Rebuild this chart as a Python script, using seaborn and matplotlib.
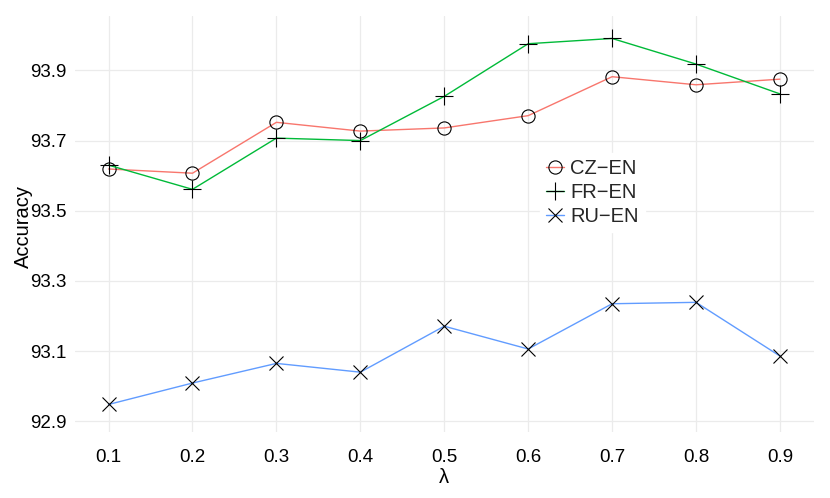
import numpy as np
import pandas as pd
import matplotlib
matplotlib.use("Agg")
import matplotlib.pyplot as plt
import seaborn as sns

lambdas = [0.1, 0.2, 0.3, 0.4, 0.5, 0.6, 0.7, 0.8, 0.9]
cz_en = [93.619, 93.607, 93.752, 93.727, 93.736, 93.771, 93.882, 93.859, 93.875]
fr_en = [93.630, 93.561, 93.707, 93.700, 93.826, 93.976, 93.991, 93.918, 93.833]
ru_en = [92.948, 93.009, 93.065, 93.040, 93.171, 93.106, 93.235, 93.239, 93.086]
series_names = ["CZ\u2212EN", "FR\u2212EN", "RU\u2212EN"]
x_ticks = [0.1, 0.2, 0.3, 0.4, 0.5, 0.6, 0.7, 0.8, 0.9]
x_tick_labels = ["0.1", "0.2", "0.3", "0.4", "0.5", "0.6", "0.7", "0.8", "0.9"]
y_ticks = [92.9, 93.1, 93.3, 93.5, 93.7, 93.9]
y_tick_labels = ["92.9", "93.1", "93.3", "93.5", "93.7", "93.9"]

df = pd.DataFrame({
    "lambda": lambdas * 3,
    "Accuracy": cz_en + fr_en + ru_en,
    "pair": [series_names[0]] * 9 + [series_names[1]] * 9 + [series_names[2]] * 9,
})

sns.set_theme(style="white")
plt.rcParams["font.family"] = ["Liberation Sans", "DejaVu Sans"]

fig = plt.figure(figsize=(8.3, 4.98), dpi=100)
ax = fig.add_axes([75 / 830, 1 - 432 / 498, (813.5 - 75) / 830, (432 - 16) / 498])

palette = {series_names[0]: "#F8766D", series_names[1]: "#00BA38", series_names[2]: "#619CFF"}
markers = {series_names[0]: "o", series_names[1]: "+", series_names[2]: "x"}
sizes = {series_names[0]: 9.5, series_names[1]: 13.5, series_names[2]: 9.5}

sns.lineplot(data=df, x="lambda", y="Accuracy", hue="pair", hue_order=series_names,
             palette=palette, legend=False, linewidth=1.0, ax=ax, zorder=3)

for line, name in zip(ax.lines[:3], series_names):
    line.set_marker(markers[name])
    line.set_markersize(sizes[name])
    line.set_markeredgecolor("black")
    line.set_markerfacecolor("none")
    line.set_markeredgewidth(0.8)

ax.set_xlim(0.06, 0.94)
ax.set_ylim(92.8695, 94.055)
ax.set_xticks(x_ticks)
ax.set_xticklabels(x_tick_labels)
ax.set_yticks(y_ticks)
ax.set_yticklabels(y_tick_labels)

ax.grid(True, color="#EBEBEB", linewidth=0.9, zorder=0)
ax.set_axisbelow(True)
for s in ax.spines.values():
    s.set_visible(False)
ax.spines["bottom"].set_position(("outward", 6))

ax.tick_params(axis="both", which="major", direction="out", length=3.2, width=0.8,
               color="#333333", labelsize=13.5, labelcolor="black")
ax.tick_params(axis="x", pad=2.8)
ax.tick_params(axis="y", pad=3)

ax.set_xlabel("\u03bb", fontsize=14.5, color="black")
ax.set_ylabel("Accuracy", fontsize=14.5, color="black")
ax.xaxis.set_label_coords(0.5, -0.0865)
ax.yaxis.set_label_coords(-0.057, 0.493)

leg = ax.legend(handles=ax.lines[:3], labels=series_names, loc="upper left",
                bbox_to_anchor=(540 / 830, 1 - 153 / 498), bbox_transform=fig.transFigure,
                borderaxespad=0, frameon=True, fancybox=False, facecolor="white",
                edgecolor="white", framealpha=1, fontsize=14.5, handlelength=0.9,
                handletextpad=0.3, labelspacing=0.25, borderpad=0.3)
leg.set_zorder(5)

fig.savefig("out.png", dpi=100, facecolor="white")
